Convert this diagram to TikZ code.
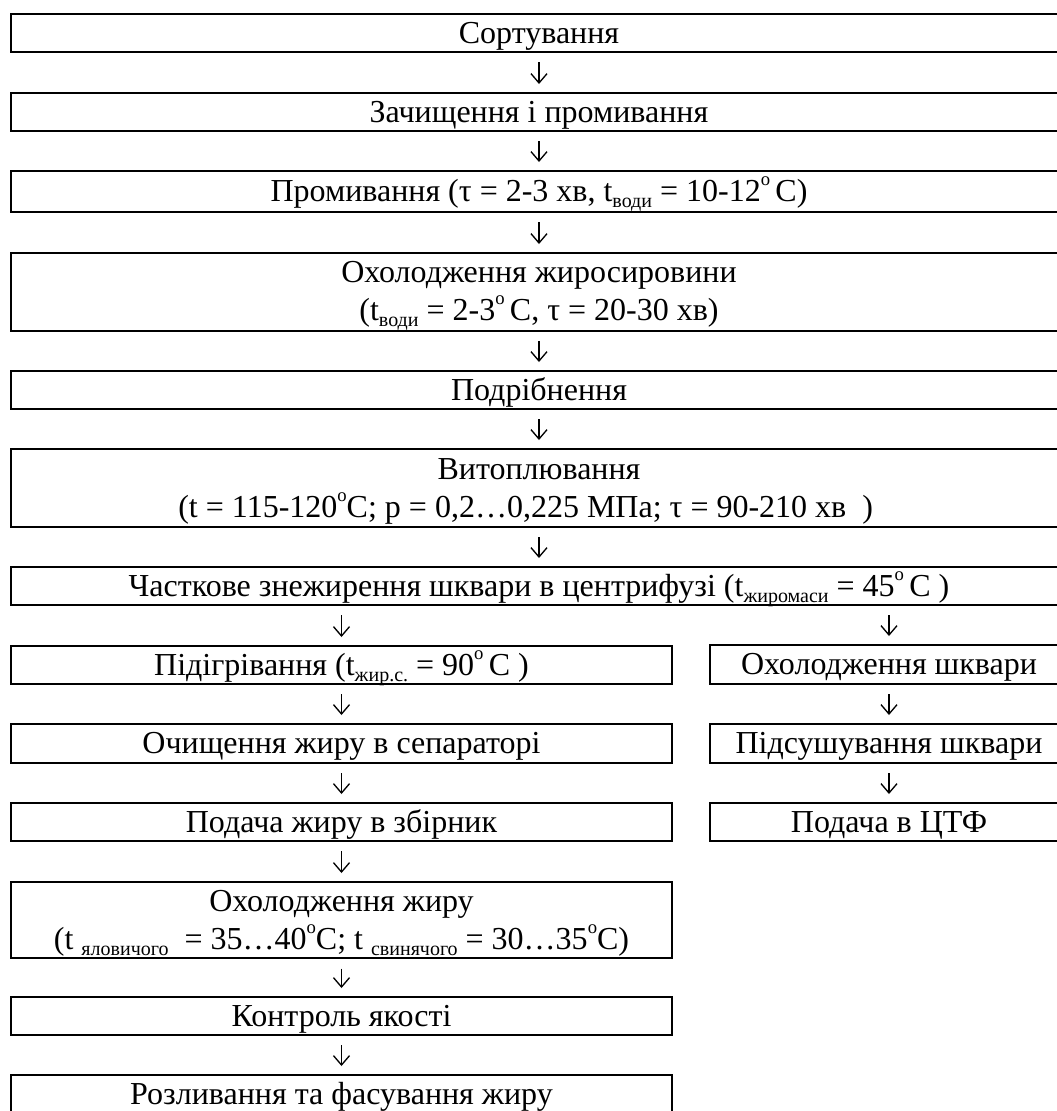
\documentclass[tikz,border=0pt]{standalone}
\usepackage{fontspec}
\setmainfont{Liberation Serif}
\usetikzlibrary{arrows.meta}
\newcommand\degs{\raisebox{0.5em}{\fontsize{14}{14}\selectfont o}}
\newcommand\subs[1]{\raisebox{-0.2em}{\fontsize{15}{15}\selectfont #1}}
\begin{document}
\begin{tikzpicture}[x=0.75pt,y=-0.75pt,
  box/.style={draw, line width=1.5pt, inner sep=0pt, anchor=north west, align=center,
              font=\fontsize{24}{28.5}\selectfont},
  wide/.style={box, minimum width=792pt},
  lcol/.style={box, minimum width=495.75pt},
  rcol/.style={box, minimum width=268.5pt},
  one/.style={text height=21.75pt, text depth=6.75pt},
  arr/.style={line width=1pt, -{Straight Barb[length=7pt,width=12pt,line width=1pt]},
              shorten <=7pt, shorten >=6pt}]
\useasboundingbox (0,0) rectangle (1057,1111);
\clip (0,0) rectangle (1057,1111);

\node[wide, one, minimum height=28.5pt] (b1) at (10,13) {Сортування};
\node[wide, one, minimum height=28.5pt] (b2) at (10,92) {Зачищення і промивання};
\node[wide, one, minimum height=30.75pt] (b3) at (10,170)
  {Промивання (τ = 2-3 хв, t\subs{води} = 10-12\degs\,С)};
\node[wide, minimum height=57pt] (b4) at (10,252)
  {\rule{0pt}{22pt}Охолодження жиросировини\\
   (t\subs{води} = 2-3\degs\,С, τ = 20-30 хв)\rule[-6.75pt]{0pt}{6.75pt}};
\node[wide, one, minimum height=28.5pt] (b5) at (10,370) {Подрібнення};
\node[wide, minimum height=58.5pt] (b6) at (10,448)
  {\rule{0pt}{22pt}Витоплювання\\
   (t = 115-120\degs C; р = 0,2…0,225 МПа; τ = 90-210 хв\ \ )\hspace*{20pt}\rule[-6.75pt]{0pt}{6.75pt}};
\node[wide, one, minimum height=28.5pt] (b7) at (10,566)
  {Часткове знежирення шквари в центрифузі (t\subs{жиромаси} = 45\degs\,С )};

\node[lcol, one, minimum height=28.5pt] (b8) at (10,645)
  {Підігрівання (t\subs{жир.с.} = 90\degs\,С )};
\node[lcol, one, minimum height=29.25pt] (b9) at (10,723) {Очищення жиру в сепараторі};
\node[lcol, one, minimum height=28.5pt] (b10) at (10,802) {Подача жиру в збірник};
\node[lcol, minimum height=56.25pt] (b11) at (10,881)
  {\rule{0pt}{22pt}Охолодження жиру\\
   (t \subs{яловичого}\ \ = 35…40\degs С; t \subs{свинячого} = 30…35\degs С)\rule[-6.75pt]{0pt}{6.75pt}};
\node[lcol, one, minimum height=27.75pt] (b12) at (10,996) {Контроль якості};
\node[lcol, one, minimum height=28.5pt] (b13) at (10,1074) {Розливання та фасування жиру};

\node[rcol, one, minimum height=29.25pt] (r1) at (709,644) {Охолодження шквари};
\node[rcol, one, minimum height=29.25pt] (r2) at (709,723) {Підсушування шквари};
\node[rcol, one, minimum height=28.5pt] (r3) at (709,802) {Подача в ЦТФ};

\draw[arr] (b1.south) -- (b2.north);
\draw[arr] (b2.south) -- (b3.north);
\draw[arr] (b3.south) -- (b4.north);
\draw[arr] (b4.south) -- (b5.north);
\draw[arr] (b5.south) -- (b6.north);
\draw[arr] (b6.south) -- (b7.north);
\draw[arr] (b7.south -| b8.north) -- (b8.north);
\draw[arr] (b7.south -| r1.north) -- (r1.north);
\draw[arr] (b8.south) -- (b9.north);
\draw[arr] (b9.south) -- (b10.north);
\draw[arr] (b10.south) -- (b11.north);
\draw[arr] (b11.south) -- (b12.north);
\draw[arr] (b12.south) -- (b13.north);
\draw[arr] (r1.south) -- (r2.north);
\draw[arr] (r2.south) -- (r3.north);
\end{tikzpicture}
\end{document}
